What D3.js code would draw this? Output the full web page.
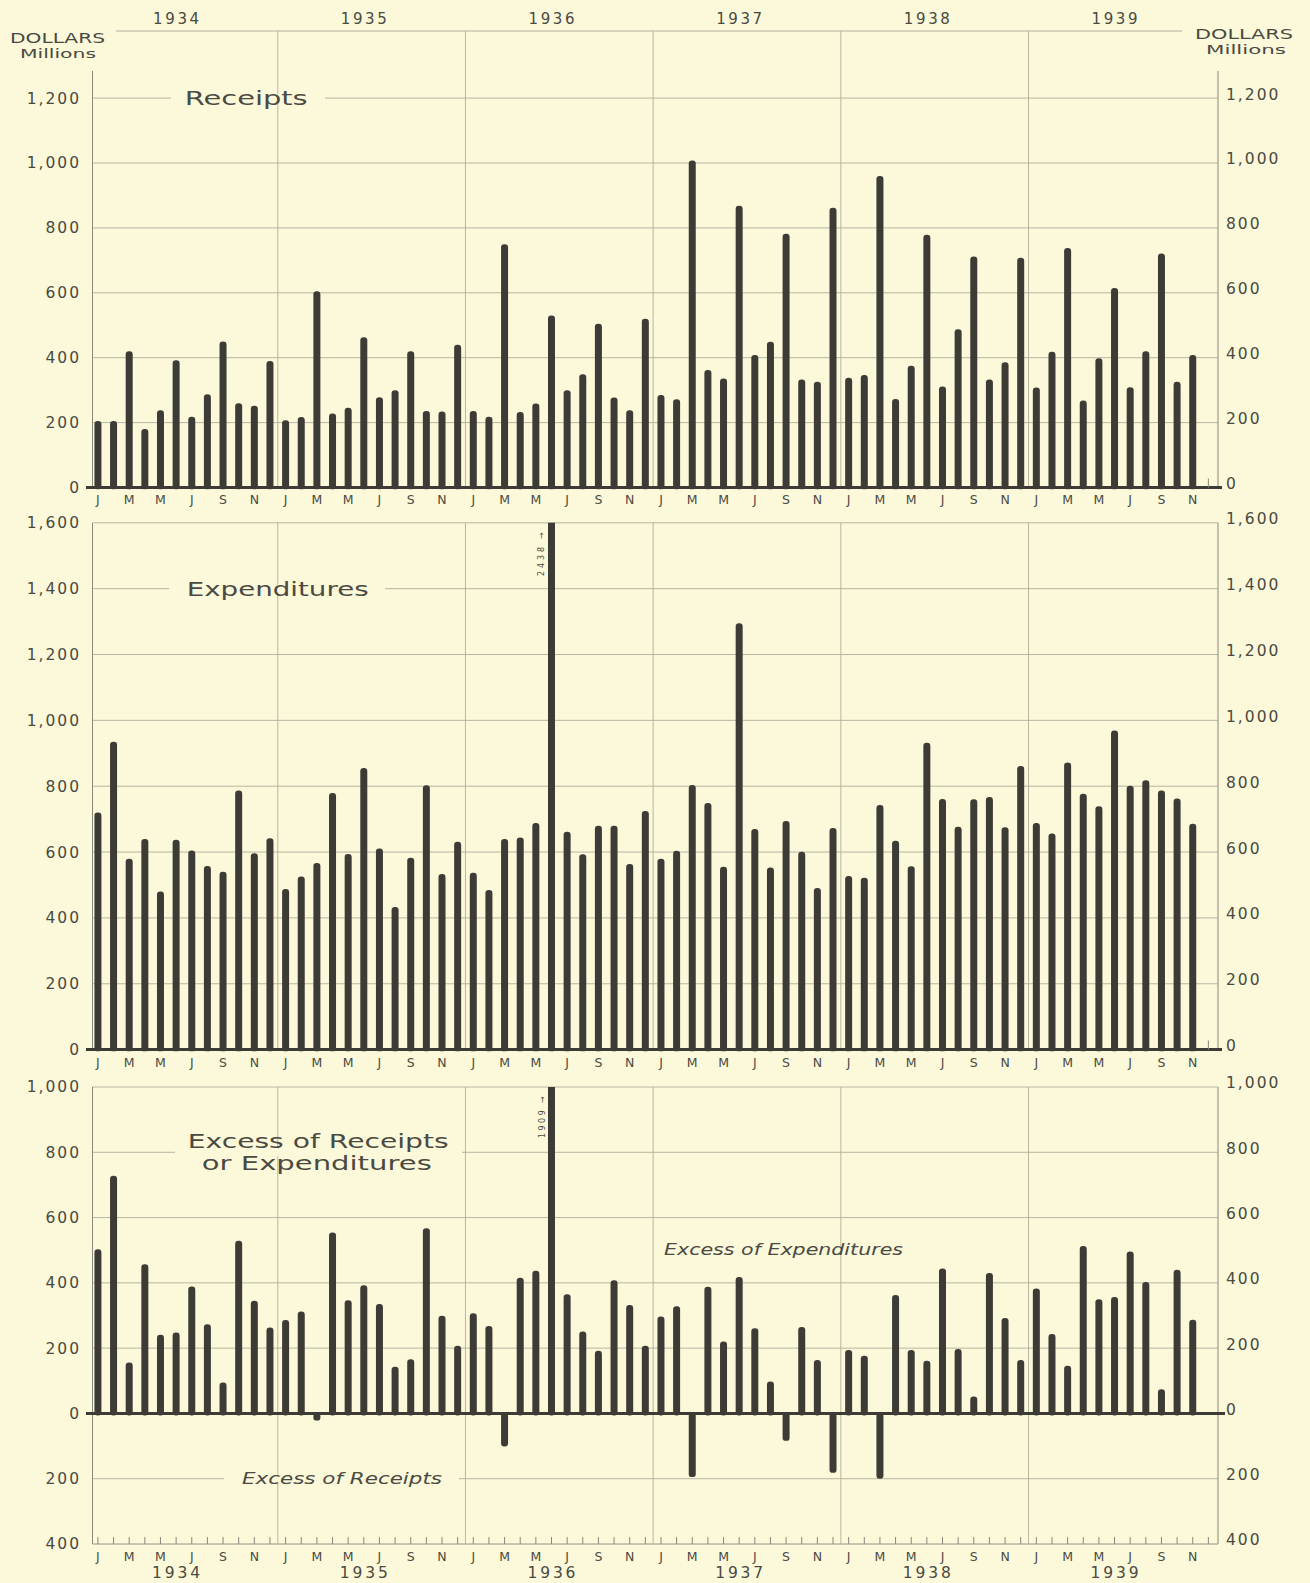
<!DOCTYPE html>
<html>
<head>
<meta charset="utf-8">
<script src="https://cdn.jsdelivr.net/npm/d3@7"></script>
<style>
  html, body { margin: 0; padding: 0; background: #fbf9da; }
  svg { display: block; }
  text { font-family: "DejaVu Sans", "Lato", sans-serif; }
</style>
</head>
<body>
<svg id="chart" width="1310" height="1583"></svg>
<script>
// ---------------- DATA ----------------
const years = ["1934", "1935", "1936", "1937", "1938", "1939"];
const monthLetters = ["J", "F", "M", "A", "M", "J", "J", "A", "S", "O", "N", "D"];

// Monthly receipts, Jan 1934 - Nov 1939 (millions of dollars)
const receipts = [
  205, 205, 420, 180, 238, 392, 218, 287, 450, 260, 252, 390,
  207, 217, 605, 228, 246, 463, 278, 300, 420, 236, 234, 440,
  236, 218, 750, 233, 259, 530, 300, 349, 505, 277, 238, 520,
  285, 272, 1008, 362, 336, 868, 408, 449, 782, 333, 326, 862,
  338, 347, 960, 273, 375, 779, 311, 488, 712, 333, 386, 708,
  308, 418, 738, 268, 398, 615, 309, 420, 721, 326, 408
];

// Monthly expenditures, Jan 1934 - Nov 1939
const expenditures = [
  720, 935, 580, 640, 480, 637, 605, 558, 540, 787, 596, 642,
  488, 526, 567, 779, 594, 855, 611, 433, 583, 803, 533, 631,
  537, 485, 640, 644, 688, 2438, 662, 593, 680, 680, 564, 725,
  580, 604, 804, 749, 555, 1295, 670, 553, 694, 601, 491, 673,
  527, 522, 743, 634, 557, 932, 761, 677, 760, 767, 675, 861,
  688, 656, 872, 777, 739, 969, 801, 818, 787, 763, 686
];

// Excess of expenditures (+) or of receipts (-)
const excess = [
  503, 728, 156, 457, 241, 248, 389, 273, 95, 529, 345, 263,
  286, 312, -22, 554, 347, 393, 335, 143, 166, 567, 299, 207,
  307, 268, -101, 416, 437, 1909, 365, 251, 192, 408, 332, 207,
  297, 328, -195, 388, 220, 418, 261, 98, -84, 265, 164, -182,
  194, 177, -200, 363, 194, 161, 444, 197, 52, 430, 292, 164,
  383, 243, 146, 513, 350, 357, 496, 403, 74, 440, 287
];

const receiptTicks = [0, 200, 400, 600, 800, 1000, 1200];
const expenditureTicks = [0, 200, 400, 600, 800, 1000, 1200, 1400, 1600];
const excessTicks = [-400, -200, 0, 200, 400, 600, 800, 1000];

const offScaleNotes = ["2438 \u2192", "1909 \u2192"];

// ---------------- STYLE ----------------
const BG = "#fbf9da", INK = "#3c3b35", TXT = "#4a4942", GRID = "#b0ae9c", AXIS = "#8a887a";

// ---------------- SETUP ----------------
const svg = d3.select("#chart");
svg.append("rect").attr("width", 1310).attr("height", 1583).attr("fill", BG);

const months = years.flatMap(y => monthLetters.map((m, i) => y + "-" + i));
const x = d3.scaleBand().domain(months).range([90.1, 1216.2]);
const cx = i => x(months[i]) + x.bandwidth() / 2;
const LEFT = 92.5, RIGHT = 1218;
const BAR_W = 7;
const fmt = d => d3.format(",")(Math.abs(d));

const panels = [
  { id: "p1", data: receipts, y: d3.scaleLinear([0, 1200], [487.5, 98.1]), ticks: receiptTicks,
    top: 98.1, axisTop: 71, vTop: 31, bottom: 487.5, monthY: 504 },
  { id: "p2", data: expenditures, y: d3.scaleLinear([0, 1600], [1049.6, 522.8]), ticks: expenditureTicks,
    top: 522.8, axisTop: 522.8, vTop: 522.8, bottom: 1049.6, monthY: 1067 },
  { id: "p3", data: excess, y: d3.scaleLinear([-400, 1000], [1544, 1087]), ticks: excessTicks,
    top: 1087, axisTop: 1087, vTop: 1087, bottom: 1544, monthY: 1561 }
];

const defs = svg.append("defs");

panels.forEach((p, pi) => {
  const g = svg.append("g").attr("class", p.id);
  const y = p.y;

  // horizontal grid lines
  g.append("g").selectAll("line")
    .data(p.ticks.filter(t => t !== 0))
    .join("line")
    .attr("x1", LEFT).attr("x2", RIGHT)
    .attr("y1", d => y(d)).attr("y2", d => y(d))
    .attr("stroke", d => (pi === 2 && d === -400) ? AXIS : GRID)
    .attr("stroke-width", 0.9);

  // vertical year lines
  g.append("g").selectAll("line")
    .data(years.slice(1))
    .join("line")
    .attr("x1", d => x(d + "-0")).attr("x2", d => x(d + "-0"))
    .attr("y1", p.vTop).attr("y2", p.bottom)
    .attr("stroke", GRID).attr("stroke-width", 0.9);

  // left and right axis lines
  g.append("line").attr("x1", LEFT).attr("x2", LEFT)
    .attr("y1", p.axisTop).attr("y2", p.bottom)
    .attr("stroke", AXIS).attr("stroke-width", 1);
  g.append("line").attr("x1", RIGHT).attr("x2", RIGHT)
    .attr("y1", p.axisTop).attr("y2", p.bottom)
    .attr("stroke", AXIS).attr("stroke-width", 1);

  // value axis labels
  const leftAxis = g.append("g").attr("transform", "translate(84,0)")
    .call(d3.axisLeft(y).tickValues(p.ticks).tickSize(0).tickFormat(fmt));
  const rightAxis = g.append("g").attr("transform", "translate(1223,-4)")
    .call(d3.axisRight(y).tickValues(p.ticks).tickSize(0).tickFormat(fmt));
  [leftAxis, rightAxis].forEach(a => {
    a.select(".domain").remove();
    a.selectAll("text")
      .attr("font-family", "DejaVu Sans").attr("font-size", 15.5)
      .attr("letter-spacing", 2).attr("fill", TXT);
  });

  // month labels
  const mAxis = g.append("g").attr("transform", `translate(0,${p.monthY - 4})`)
    .call(d3.axisBottom(x)
      .tickValues(months.filter((m, i) => i % 2 === 0 && i < 71))
      .tickSize(0).tickPadding(0)
      .tickFormat(m => monthLetters[+m.split("-")[1]]));
  mAxis.select(".domain").remove();
  mAxis.selectAll("text")
    .attr("font-family", "DejaVu Sans").attr("font-size", 12.5)
    .attr("fill", TXT).attr("dy", 0).attr("y", 4);

  // clip for bars
  defs.append("clipPath").attr("id", "clip-" + p.id)
    .append("rect").attr("x", 0).attr("y", p.top)
    .attr("width", 1310).attr("height", p.bottom - p.top + 2);

  // bars
  g.append("g").attr("clip-path", `url(#clip-${p.id})`)
    .selectAll("rect")
    .data(p.data)
    .join("rect")
    .attr("x", (d, i) => cx(i) - BAR_W / 2)
    .attr("width", BAR_W)
    .attr("y", d => d >= 0 ? y(d) : y(0) - 1)
    .attr("height", d => Math.abs(y(d) - y(0)) + (d >= 0 ? 2 : 1))
    .attr("rx", 3.2)
    .attr("fill", INK);

  // zero line
  g.append("line")
    .attr("x1", 86).attr("x2", pi === 2 ? 1225 : 1222)
    .attr("y1", y(0)).attr("y2", y(0))
    .attr("stroke", INK).attr("stroke-width", 3);

  // small end tick at December 1939
  if (pi < 2) {
    g.append("line").attr("x1", cx(71)).attr("x2", cx(71))
      .attr("y1", y(0) - 9).attr("y2", y(0))
      .attr("stroke", AXIS).attr("stroke-width", 1);
  }
});

// ---------- bottom month tick marks ----------
const p3 = panels[2];
svg.append("g").selectAll("line")
  .data(months)
  .join("line")
  .attr("x1", (d, i) => cx(i)).attr("x2", (d, i) => cx(i))
  .attr("y1", p3.y(-400)).attr("y2", p3.y(-400) - 7)
  .attr("stroke", AXIS).attr("stroke-width", 1);

// ---------- year labels (top and bottom) ----------
svg.append("line").attr("x1", 116).attr("x2", 1182)
  .attr("y1", 31).attr("y2", 31).attr("stroke", GRID).attr("stroke-width", 1);
svg.append("g").selectAll("text")
  .data(years)
  .join("text")
  .attr("x", (d, i) => cx(i * 12 + 5) - 23).attr("y", 24)
  .attr("font-size", 15).attr("fill", TXT)
  .attr("textLength", 46).attr("lengthAdjust", "spacing")
  .text(d => d);
svg.append("g").selectAll("text")
  .data(years)
  .join("text")
  .attr("x", (d, i) => cx(i * 12 + 5) - 24).attr("y", 1578)
  .attr("font-size", 15.5).attr("fill", TXT)
  .attr("textLength", 48).attr("lengthAdjust", "spacing")
  .text(d => d);

// ---------- unit labels ----------
function label(txt, x0, yb, size, len, opts = {}) {
  const t = svg.append("text").attr("x", x0).attr("y", yb)
    .attr("font-size", size).attr("fill", TXT)
    .attr("textLength", len).attr("lengthAdjust", "spacingAndGlyphs")
    .text(txt);
  if (opts.italic) t.attr("font-style", "italic");
  return t;
}
label("DOLLARS", 10, 43, 13.5, 95);
label("Millions", 20, 58, 12, 76);
label("DOLLARS", 1195, 39, 13.5, 98);
label("Millions", 1206, 54, 12, 80);

// ---------- panel titles (break the grid line behind them) ----------
function gap(x0, x1, yc) {
  svg.append("rect").attr("x", x0).attr("y", yc - 4).attr("width", x1 - x0).attr("height", 8).attr("fill", BG);
}
gap(171, 325, panels[0].y(1200));
label("Receipts", 184.7, 105, 20, 123);

gap(169, 385, panels[1].y(1400));
label("Expenditures", 186.7, 596, 20, 182);

gap(175, 462, panels[2].y(800));
label("Excess of Receipts", 187.7, 1148, 20, 261);
label("or Expenditures", 201.8, 1170, 20, 230);

label("Excess of Expenditures", 664, 1255, 15, 239, { italic: true });
gap(224, 459, panels[2].y(-200));
label("Excess of Receipts", 242, 1484, 15, 200, { italic: true });

// ---------- off-scale notes ----------
const notePos = [[544, 576, 44], [545, 1138, 42]];
notePos.forEach(([nx, ny, len], k) => {
  svg.append("text")
    .attr("transform", `translate(${nx},${ny}) rotate(-90)`)
    .attr("font-size", 8).attr("fill", TXT)
    .attr("textLength", len).attr("lengthAdjust", "spacing")
    .text(offScaleNotes[k]);
});
</script>
</body>
</html>
